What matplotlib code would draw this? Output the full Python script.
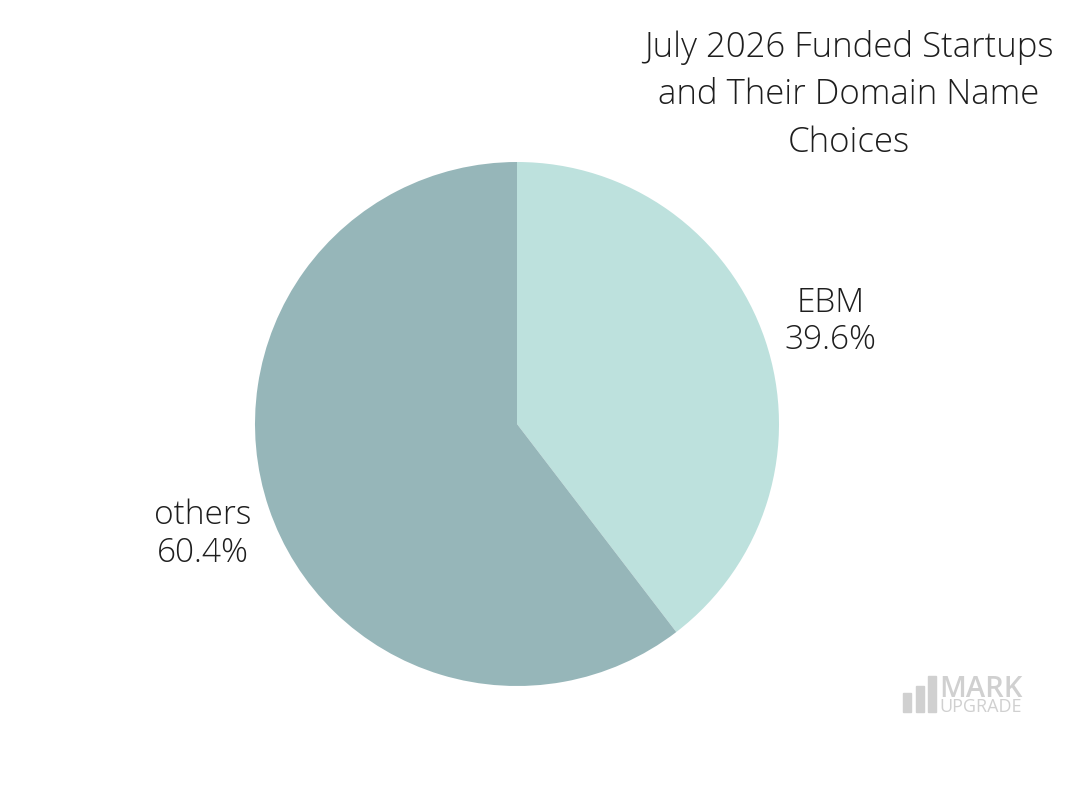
import numpy as np
import matplotlib.pyplot as plt
from matplotlib import patches

labels = ["EBM", "others"]
shares = [39.6, 60.4]
colors = ["#bde1dd", "#96b6b9"]
title = "July 2026 Funded Startups\nand Their Domain Name\nChoices"

plt.rcParams["font.family"] = ["Open Sans", "DejaVu Sans"]

W, H = 1080, 800
fig = plt.figure(figsize=(W / 100, H / 100), dpi=100, facecolor="white")

# pie axes: centre (517, 424), radius 262 px
cx, cy, r = 517, 424, 262
ax = fig.add_axes([(cx - r) / W, 1 - (cy + r) / H, 2 * r / W, 2 * r / H])
wedges, _ = ax.pie(shares, colors=colors, startangle=90, counterclock=False,
                   radius=1.0, wedgeprops=dict(linewidth=0))
ax.set_xlim(-1, 1)
ax.set_ylim(-1, 1)
ax.set_aspect("equal")
ax.axis("off")

for w, lab, val in zip(wedges, labels, shares):
    mid = np.deg2rad((w.theta1 + w.theta2) / 2)
    x, y = 1.265 * np.cos(mid), 1.265 * np.sin(mid) - 0.016
    ax.text(x, y, f"{lab}\n{val:.1f}%", ha="center", va="center",
            fontsize=24, fontweight="light", color="#1e1e1e",
            linespacing=1.17, clip_on=False)

fig.text(849 / W, 1 - 95 / H, title, ha="center", va="center",
         fontsize=25, fontweight="light", color="#1e1e1e", linespacing=1.48)

# watermark
gray = "#d0d0d0"
for bx, bh in [(903, 19), (916, 26), (928, 36)]:
    fig.patches.append(patches.Rectangle((bx / W, 1 - 712 / H), 8 / W, bh / H,
                                         transform=fig.transFigure, color=gray))
fig.text(939 / W, 1 - 697 / H, "MARK", ha="left", va="baseline",
         fontsize=21, color=gray, fontweight="semibold")
fig.text(939 / W, 1 - 712 / H, "UPGRADE", ha="left", va="baseline",
         fontsize=13, color=gray, fontweight="medium")

fig.savefig("out.png", dpi=100, facecolor="white")
